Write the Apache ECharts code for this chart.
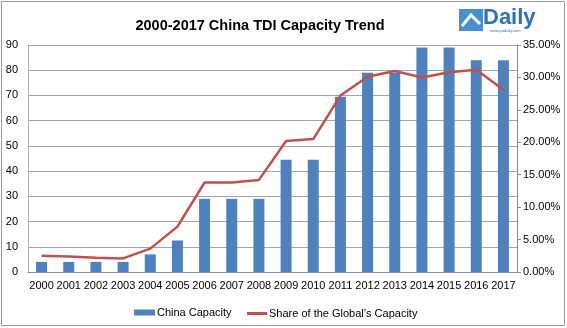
<!DOCTYPE html>
<html><head><meta charset="utf-8">
<script src="https://cdn.jsdelivr.net/npm/echarts@6/dist/echarts.min.js"></script>
<style>html,body{margin:0;padding:0;background:#fff}#c{width:567px;height:328px}</style>
</head><body><div id="c"></div>
<script>
const years = ['2000','2001','2002','2003','2004','2005','2006','2007','2008','2009','2010','2011','2012','2013','2014','2015','2016','2017'];
const chinaCapacity = [4,4,4,4,7,12.5,29,29,29,44.5,44.5,69.5,79,79,89,89,84,84];
const globalShare = [2.5,2.4,2.2,2.1,3.6,7.0,13.8,13.8,14.2,20.2,20.5,27.2,30.1,31.0,30.0,30.8,31.2,28.1];
const leftTicks = {min:0,max:90,interval:10};
const rightTicks = {min:0,max:35,interval:5};

const chart = echarts.init(document.getElementById('c'));
const font = 'Liberation Sans, Arial, sans-serif';
const shareName = 'Share of the Global\u2019s Capacity';
chart.setOption({
  animation:false,
  backgroundColor:'#fff',
  title:{text:'2000-2017 China TDI Capacity Trend',left:255,textAlign:'center',top:13,
    textStyle:{fontFamily:font,fontSize:14.5,fontWeight:'bold',color:'#000'}},
  graphic:[
    {type:'rect',shape:{x:1.5,y:1.5,width:563,height:324},style:{fill:'none',stroke:'#9a9a9a',lineWidth:1}},
    {type:'rect',shape:{x:459,y:9,width:24,height:22},style:{fill:'#4a8fd0'}},
    {type:'polyline',shape:{points:[[462,26],[471,15],[480,24]]},style:{stroke:'#fff',lineWidth:3,fill:'none'}},
    {type:'text',x:483,y:7,style:{text:'Daily',font:'bold 22px '+font,fill:'#2e6fbf'}},
    {type:'text',x:490,y:29,style:{text:'www.pudaily.com',font:'4px '+font,fill:'#2e6fbf'}}
  ],
  legend:[
    {left:129,top:302,itemGap:0,itemWidth:21,itemHeight:6,icon:'rect',
     textStyle:{fontFamily:font,fontSize:11,color:'#000',padding:[0,0,0,-3]},
     data:['China Capacity']},
    {left:242,top:303,itemGap:0,itemWidth:20,itemHeight:3,icon:'rect',
     textStyle:{fontFamily:font,fontSize:11,color:'#000',padding:[0,0,0,-3]},
     data:[shareName]}
  ],
  grid:{left:28,right:50,top:45,bottom:56},
  xAxis:{type:'category',data:years,
    axisLine:{lineStyle:{color:'#8c8c8c'}},axisTick:{show:false},
    axisLabel:{fontFamily:font,fontSize:11,color:'#000',interval:0,margin:8}},
  yAxis:[
    {type:'value',min:leftTicks.min,max:leftTicks.max,interval:leftTicks.interval,
     axisLine:{show:true,lineStyle:{color:'#b0b0b0'}},axisTick:{show:false},
     splitLine:{lineStyle:{color:'#a6a6a6'}},
     axisLabel:{fontFamily:font,fontSize:11,color:'#000',margin:10}},
    {type:'value',min:rightTicks.min,max:rightTicks.max,interval:rightTicks.interval,position:'right',
     axisLine:{show:true,lineStyle:{color:'#8c8c8c'}},axisTick:{show:true,length:4,lineStyle:{color:'#8c8c8c'}},
     splitLine:{show:false},
     axisLabel:{fontFamily:font,fontSize:11,color:'#000',margin:6,formatter:v=>v.toFixed(2)+'%'}}
  ],
  series:[
    {name:'China Capacity',type:'bar',data:chinaCapacity,barWidth:11,
     itemStyle:{color:'#4f81bd'}},
    {name:shareName,type:'line',yAxisIndex:1,data:globalShare,
     symbol:'none',lineStyle:{color:'#c0504d',width:2.5},itemStyle:{color:'#c0504d'}}
  ]
});
</script></body></html>
